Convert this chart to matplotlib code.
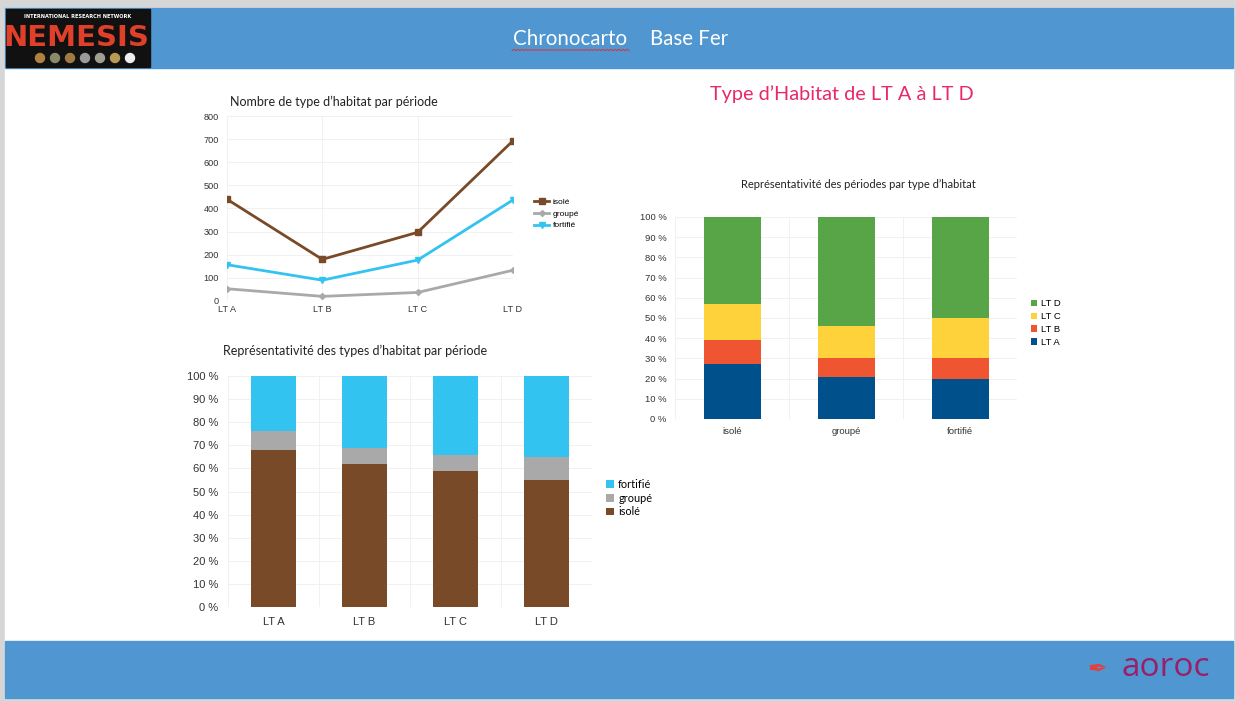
import numpy as np
import matplotlib.pyplot as plt
from matplotlib.patches import Rectangle
from matplotlib.ticker import FixedLocator

periodes = ['LT A', 'LT B', 'LT C', 'LT D']
types = ['isolé', 'groupé', 'fortifié']

nb_isole = [440, 180, 297, 693]
nb_groupe = [53, 20, 37, 133]
nb_fortifie = [157, 90, 177, 437]

pct_isole = [68, 62, 59, 55]
pct_groupe = [8, 7, 7, 10]
pct_fortifie = [24, 31, 34, 35]

pct_lta = [27, 21, 20]
pct_ltb = [12, 9, 10]
pct_ltc = [18, 16, 20]
pct_ltd = [43, 54, 50]

c_isole = '#784A27'
c_groupe = '#A9A9A9'
c_fortifie = '#33C3F0'
c_lt = ['#00508C', '#F05532', '#FDD23B', '#57A546']
bleu = '#5096D1'
grille = '#EFEFEF'

W, H = 1236, 702
fig = plt.figure(figsize=(W / 100, H / 100), dpi=100)


def box(x0, y0, x1, y1):
    # pixels (haut-gauche) -> coordonnées figure
    return [x0 / W, 1 - y1 / H, (x1 - x0) / W, (y1 - y0) / H]


def fx(x):
    return x / W


def fy(y):
    return 1 - y / H


# fond de la diapo
bg = fig.add_axes([0, 0, 1, 1])
bg.set_xlim(0, W)
bg.set_ylim(H, 0)
bg.axis('off')
bg.add_patch(Rectangle((0, 0), W, H, color='#D6D6D6'))
bg.add_patch(Rectangle((5, 8), 1228, 690, color='white'))
bg.add_patch(Rectangle((5, 8), 1228, 60, color=bleu))
bg.add_patch(Rectangle((5, 641), 1228, 57, color=bleu))
# logo NEMESIS
bg.add_patch(Rectangle((6, 9), 144, 58, color='#111111'))
bg.text(78, 17, 'INTERNATIONAL RESEARCH NETWORK', color='white', fontsize=3.6,
        ha='center', va='center', fontweight='bold', family='DejaVu Sans')
bg.text(76, 38, 'NEMESIS', color='#E0402A', fontsize=21, ha='center', va='center',
        family='DejaVu Sans Condensed', fontweight='bold')
for i, c in enumerate(['#B08040', '#8A8A6A', '#A07A40', '#9A9A9A', '#A0A090', '#B89A50', '#EEEEEE']):
    bg.add_patch(plt.Circle((40 + i * 15, 58), 4.5, color=c))

bg.text(570, 39, 'Chronocarto', color='white', fontsize=14.8, ha='center', va='center', family='Lato')
bg.text(689, 39, 'Base Fer', color='white', fontsize=14.8, ha='center', va='center', family='Lato')
xs = np.linspace(512, 629, 60)
bg.plot(xs, 50 + 0.9 * np.sin(xs * 1.6), color='#E03030', lw=0.7)

bg.text(842, 94, 'Type d\u2019Habitat de LT A à LT D', color='#E8286A', fontsize=14.3,
        ha='center', va='center', family='Lato')
bg.text(1166, 667, 'aoroc', color='#9A1F6A', fontsize=24, ha='center', va='center',
        family='Open Sans')
bg.text(1097, 669, '\u2712', color='#E04040', fontsize=17, ha='center', va='center', family='DejaVu Sans')

tick_font = 'Liberation Sans'
title_font = 'Lato'


def style(ax, size):
    for s in ax.spines.values():
        s.set_visible(False)
    ax.tick_params(length=0, labelsize=size, colors='#333333')
    for lab in ax.get_xticklabels() + ax.get_yticklabels():
        lab.set_family(tick_font)


# graphique 1 : nombre par période
ax1 = fig.add_axes(box(227, 116, 513, 301))
x = np.arange(len(periodes))
ax1.plot(x, nb_isole, color=c_isole, lw=2, marker='s', ms=4.5, label='isolé', zorder=3)
ax1.plot(x, nb_groupe, color=c_groupe, lw=2, marker='D', ms=3, label='groupé', zorder=3)
ax1.plot(x, nb_fortifie, color=c_fortifie, lw=2, marker='v', ms=4.5, label='fortifié', zorder=3)
ax1.set_xlim(0, 3)
ax1.set_ylim(0, 800)
ax1.set_yticks(range(0, 801, 100))
ax1.set_xticks(x)
ax1.set_xticklabels(periodes)
ax1.grid(True, color=grille, lw=0.6)
ax1.set_axisbelow(True)
style(ax1, 6.6)
ax1.tick_params(axis='x', pad=3)
ax1.tick_params(axis='y', pad=6)
fig.text(fx(230), fy(102), 'Nombre de type d\u2019habitat par période', fontsize=9,
         family=title_font, va='center', color='#222222')
fig.legend(handles=ax1.get_lines(), loc='center left', bbox_to_anchor=(fx(531), fy(214)),
           frameon=False, prop={'family': tick_font, 'size': 6}, handlelength=1.8,
           labelspacing=0.45, handletextpad=0.4, borderaxespad=0)

# graphique 2 : représentativité des types par période
ax2 = fig.add_axes(box(228, 376, 592, 607))
b1 = ax2.bar(x, pct_isole, 0.5, color=c_isole, label='isolé')
b2 = ax2.bar(x, pct_groupe, 0.5, bottom=pct_isole, color=c_groupe, label='groupé')
base = np.array(pct_isole) + np.array(pct_groupe)
b3 = ax2.bar(x, pct_fortifie, 0.5, bottom=base, color=c_fortifie, label='fortifié')
ax2.set_xlim(-0.5, 3.5)
ax2.set_ylim(0, 100)
ax2.set_yticks(range(0, 101, 10))
ax2.set_yticklabels(['%d %%' % v for v in range(0, 101, 10)])
ax2.set_xticks(x)
ax2.set_xticklabels(periodes)
ax2.xaxis.set_minor_locator(FixedLocator(np.arange(-0.5, 4, 1)))
ax2.grid(True, axis='y', color=grille, lw=0.6)
ax2.grid(True, axis='x', which='minor', color=grille, lw=0.6)
ax2.set_axisbelow(True)
style(ax2, 8)
ax2.tick_params(which='minor', length=0)
ax2.tick_params(axis='x', pad=7)
ax2.tick_params(axis='y', pad=7)
fig.text(fx(223), fy(351), 'Représentativité des types d\u2019habitat par période', fontsize=9,
         family=title_font, va='center', color='#222222')
fig.legend(handles=[b3, b2, b1], loc='center left', bbox_to_anchor=(fx(602), fy(498)),
           frameon=False, prop={'family': 'Lato', 'size': 7.8}, handlelength=0.7,
           handleheight=0.7, labelspacing=0.25, handletextpad=0.4, borderaxespad=0)

# graphique 3 : représentativité des périodes par type
ax3 = fig.add_axes(box(675, 217, 1017, 419))
xt = np.arange(len(types))
bas = np.zeros(len(types))
barres = []
for vals, c, lab in zip([pct_lta, pct_ltb, pct_ltc, pct_ltd], c_lt, periodes):
    barres.append(ax3.bar(xt, vals, 0.5, bottom=bas, color=c, label=lab))
    bas = bas + np.array(vals)
ax3.set_xlim(-0.5, 2.5)
ax3.set_ylim(0, 100)
ax3.set_yticks(range(0, 101, 10))
ax3.set_yticklabels(['%d %%' % v for v in range(0, 101, 10)])
ax3.set_xticks(xt)
ax3.set_xticklabels(types)
ax3.xaxis.set_minor_locator(FixedLocator(np.arange(-0.5, 3, 1)))
ax3.grid(True, axis='y', color=grille, lw=0.6)
ax3.grid(True, axis='x', which='minor', color=grille, lw=0.6)
ax3.set_axisbelow(True)
style(ax3, 6.8)
ax3.tick_params(which='minor', length=0)
ax3.tick_params(axis='x', pad=6)
ax3.tick_params(axis='y', pad=6)
fig.text(fx(858), fy(184), 'Représentativité des périodes par type d\u2019habitat', fontsize=8,
         family=title_font, va='center', ha='center', color='#222222')
fig.legend(handles=barres[::-1], loc='center left', bbox_to_anchor=(fx(1027), fy(323)),
           frameon=False, prop={'family': tick_font, 'size': 6.8}, handlelength=0.7,
           handleheight=0.7, labelspacing=0.4, handletextpad=0.4, borderaxespad=0)

fig.savefig('out.png', dpi=100)
